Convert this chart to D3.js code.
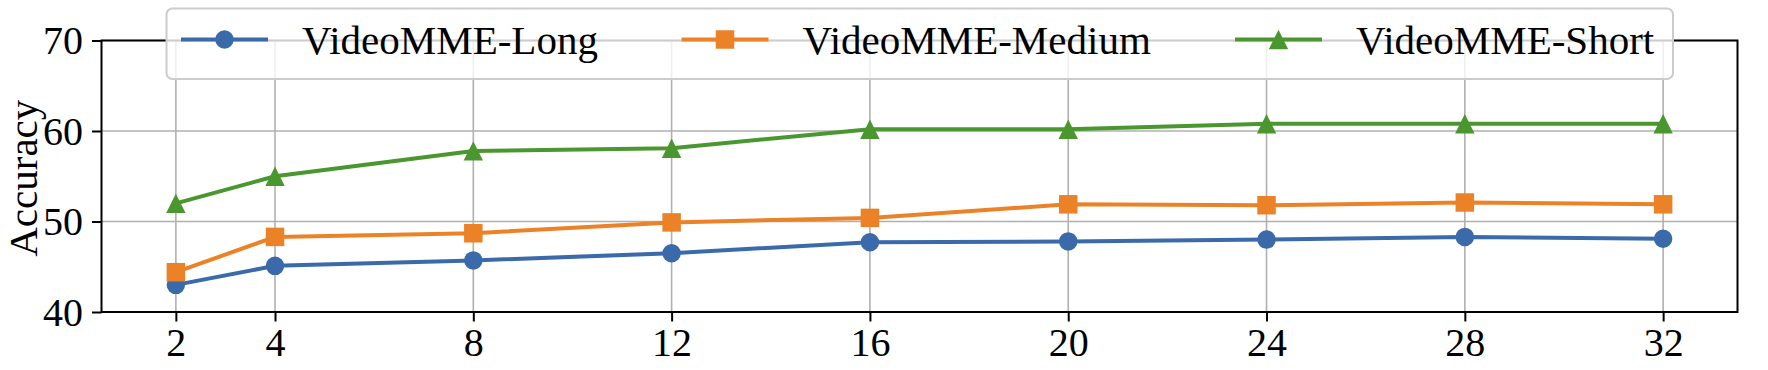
<!DOCTYPE html>
<html>
<head>
<meta charset="utf-8">
<script src="https://cdn.jsdelivr.net/npm/d3@7"></script>
<style>
    html, body { margin: 0; padding: 0; background: #fff; }
    svg { display: block; font-family: "Liberation Serif", "Times New Roman", serif; }
</style>
</head>
<body>
<div id="chart"></div>
<script>
// Data
const frames = [2, 4, 8, 12, 16, 20, 24, 28, 32];
const longAcc = [43.0, 45.1, 45.7, 46.5, 47.7, 47.8, 48.0, 48.3, 48.1];
const mediumAcc = [44.4, 48.3, 48.7, 49.9, 50.4, 51.9, 51.8, 52.1, 51.9];
const shortAcc = [52.0, 55.0, 57.8, 58.1, 60.2, 60.2, 60.8, 60.8, 60.8];
const seriesNames = ["VideoMME-Long", "VideoMME-Medium", "VideoMME-Short"];
const yTicks = [40, 50, 60, 70];

(function() {
    const width = 1768, height = 370;
    const margin = { top: 40.5, right: 30.5, bottom: 58, left: 101.5 };
    const plotW = width - margin.left - margin.right;
    const plotH = height - margin.top - margin.bottom;

    const colors = ["#3b6aab", "#ec8227", "#4a972f"];
    const markers = ["circle", "square", "triangle"];
    const allSeries = [longAcc, mediumAcc, shortAcc];
    const fontSize = 40;
    const legendFont = 41;
    const ms = 18.5;

    // x has matplotlib's 5% margins around the data range
    const xSpan = d3.max(frames) - d3.min(frames);
    const x = d3.scaleLinear()
        .domain([d3.min(frames) - xSpan * 0.05, d3.max(frames) + xSpan * 0.05])
        .range([0, plotW]);
    const y = d3.scaleLinear().domain([40, 70]).range([plotH, 0]);

    const svg = d3.select("#chart").append("svg")
        .attr("width", width)
        .attr("height", height);

    const g = svg.append("g")
        .attr("transform", `translate(${margin.left}, ${margin.top})`);

    // grid
    g.append("g").selectAll("line").data(frames).enter().append("line")
        .attr("x1", d => x(d)).attr("x2", d => x(d))
        .attr("y1", 0).attr("y2", plotH)
        .attr("stroke", "#b0b0b0").attr("stroke-width", 1.6);
    g.append("g").selectAll("line").data(yTicks).enter().append("line")
        .attr("x1", 0).attr("x2", plotW)
        .attr("y1", d => y(d)).attr("y2", d => y(d))
        .attr("stroke", "#b0b0b0").attr("stroke-width", 1.6);

    // axes
    const xAxis = d3.axisBottom(x).tickValues(frames).tickSize(9.5).tickPadding(8);
    const yAxis = d3.axisLeft(y).tickValues(yTicks).tickSize(9.5).tickPadding(9);

    const gx = g.append("g").attr("transform", `translate(0, ${plotH})`).call(xAxis);
    const gy = g.append("g").call(yAxis);
    [gx, gy].forEach(a => {
        a.select(".domain").remove();
        a.selectAll(".tick line").attr("stroke", "#000").attr("stroke-width", 2);
        a.selectAll(".tick text")
            .attr("fill", "#000")
            .style("font-family", "'Liberation Serif', serif")
            .style("font-size", fontSize + "px");
    });
    gx.selectAll(".tick text").attr("dy", "0.66em");
    gy.selectAll(".tick text").attr("dy", "0.33em");

    // frame (all four spines)
    g.append("rect")
        .attr("x", 0).attr("y", 0)
        .attr("width", plotW).attr("height", plotH)
        .attr("fill", "none").attr("stroke", "#000").attr("stroke-width", 2);

    // y label
    svg.append("text")
        .attr("transform", `translate(37, ${margin.top + plotH / 2 + 2}) rotate(-90)`)
        .attr("text-anchor", "middle")
        .style("font-size", "41px")
        .text("Accuracy");

    function markerPath(type, cx, cy, s) {
        const h = s / 2;
        if (type === "circle") {
            return `M${cx - h},${cy}a${h},${h} 0 1,0 ${s},0a${h},${h} 0 1,0 ${-s},0Z`;
        } else if (type === "square") {
            return `M${cx - h},${cy - h}h${s}v${s}h${-s}Z`;
        }
        return `M${cx},${cy - h * 1.05}L${cx + h * 1.05},${cy + h * 1.05}L${cx - h * 1.05},${cy + h * 1.05}Z`;
    }

    const line = d3.line().x(d => x(d[0])).y(d => y(d[1]));

    allSeries.forEach((vals, i) => {
        const pts = frames.map((f, j) => [f, vals[j]]);
        g.append("path")
            .attr("d", line(pts))
            .attr("fill", "none")
            .attr("stroke", colors[i])
            .attr("stroke-width", 4)
            .attr("stroke-linejoin", "round");
        g.append("g").selectAll("path").data(pts).enter().append("path")
            .attr("d", d => markerPath(markers[i], x(d[0]), y(d[1]), ms))
            .attr("fill", colors[i]);
    });

    // legend
    const legend = svg.append("g");
    legend.append("rect")
        .attr("x", 166.5).attr("y", 8.5)
        .attr("width", 1673 - 166.5).attr("height", 79 - 8.5)
        .attr("rx", 6).attr("ry", 6)
        .attr("fill", "#fff").attr("fill-opacity", 0.8)
        .attr("stroke", "#cccccc").attr("stroke-width", 2);

    const entryX = [181, 681.5, 1235];
    const rowY = 39.5;
    seriesNames.forEach((name, i) => {
        const x0 = entryX[i];
        legend.append("line")
            .attr("x1", x0).attr("x2", x0 + 87)
            .attr("y1", rowY).attr("y2", rowY)
            .attr("stroke", colors[i]).attr("stroke-width", 4);
        legend.append("path")
            .attr("d", markerPath(markers[i], x0 + 43.5, rowY, ms))
            .attr("fill", colors[i]);
        legend.append("text")
            .attr("x", x0 + 121)
            .attr("y", rowY + 14)
            .style("font-size", legendFont + "px")
            .text(name);
    });
})();
</script>
</body>
</html>
